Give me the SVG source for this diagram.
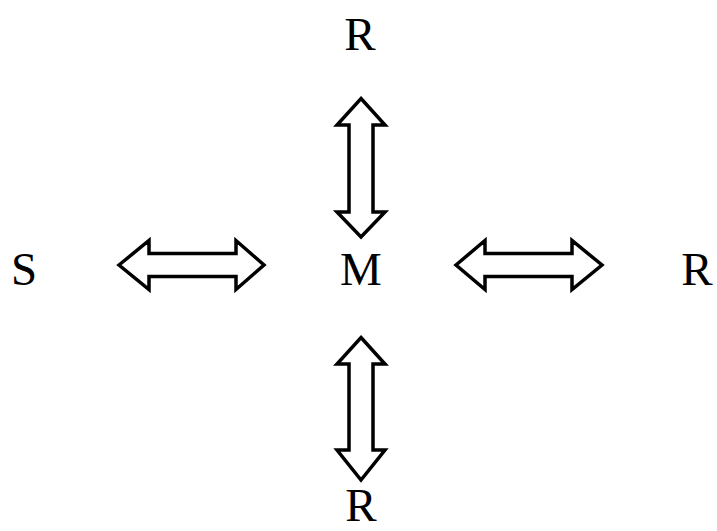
<svg xmlns="http://www.w3.org/2000/svg" width="717" height="531" viewBox="0 0 717 531">
  <style>
    .lbl { font-family: "Liberation Serif", "Times New Roman", serif; font-size: 47px; fill: #000; text-anchor: middle; }
    .arr { fill: #fff; stroke: #000; stroke-width: 3.5; stroke-linejoin: miter; }
  </style>
  <rect width="717" height="531" fill="#fff"/>
  <g id="node-m"><text class="lbl" x="361" y="285">M</text></g>
  <g id="node-r-top"><text class="lbl" x="360" y="50">R</text></g>
  <g id="node-s"><text class="lbl" x="24" y="285">S</text></g>
  <g id="node-r-right"><text class="lbl" x="697" y="285">R</text></g>
  <g id="node-r-bottom"><text class="lbl" x="361" y="521">R</text></g>
  <g id="connectors">
    <path class="arr" d="M361,98.5 L385,125 L373,125 L373,212 L385,212 L361,237 L337,212 L349,212 L349,125 L337,125 Z"/>
    <path class="arr" d="M119,265 L149,240.5 L149,253.5 L236,253.5 L236,240.5 L264,265 L236,289.5 L236,276.5 L149,276.5 L149,289.5 Z"/>
    <path class="arr" d="M456,265 L485,240.5 L485,253.5 L572,253.5 L572,240.5 L602,265 L572,289.5 L572,276.5 L485,276.5 L485,289.5 Z"/>
    <path class="arr" d="M361,337.5 L385,364 L373,364 L373,450 L385,450 L361,480 L337,450 L349,450 L349,364 L337,364 Z"/>
  </g>
</svg>
